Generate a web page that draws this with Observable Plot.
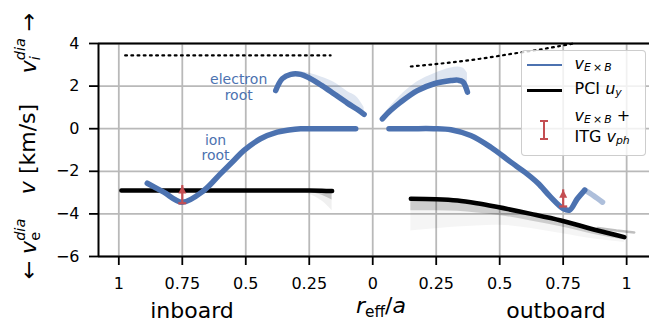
<!DOCTYPE html>
<html><head><meta charset="utf-8">
<script src="https://cdn.jsdelivr.net/npm/d3@7"></script>
<script src="https://cdn.jsdelivr.net/npm/@observablehq/plot@0.6"></script>
<style>
body{margin:0;background:#fff;}
#wrap{position:relative;width:649px;height:323px;font-family:"DejaVu Sans",sans-serif;color:#000;overflow:hidden;}
#wrap svg{position:absolute;left:0;top:0;}
.lbl{position:absolute;white-space:nowrap;line-height:1;}
.ss{display:inline-block;vertical-align:-0.3em;font-size:0.66em;line-height:1;text-align:left;}
.ss span{display:block;}
#leg{position:absolute;left:521px;top:50px;width:125px;height:106px;box-sizing:border-box;border:1.5px solid rgba(200,200,200,0.9);border-radius:4px;background:rgba(255,255,255,0.8);}
#leg .t{position:absolute;font-size:16px;line-height:1;white-space:nowrap;}
#leg sub{font-size:0.68em;vertical-align:-0.22em;line-height:0;}
</style></head><body>
<div id="wrap"></div>
<script>
// ---------- data (r_eff/a, velocity in km/s) ----------
const xTicks = [-1, -0.75, -0.5, -0.25, 0, 0.25, 0.5, 0.75, 1];
const yTicks = [-6, -4, -2, 0, 2, 4];
const xDomain = [-1.08, 1.09];
const yDomain = [-6, 4];

// ion diamagnetic velocity (dotted)
const diaIn_r = [0.975, 0.75, 0.5, 0.25, 0.166];
const diaIn_v = [3.44, 3.44, 3.44, 3.44, 3.44];
const diaOut_r = [0.15, 0.3, 0.45, 0.55, 0.65, 0.79];
const diaOut_v = [2.92, 3.1, 3.33, 3.52, 3.7, 4.0];

// PCI u_y (black, with ensemble fan)
const pciIn_r = [0.99, 0.75, 0.5, 0.3, 0.25, 0.2, 0.16];
const pciIn_v = [-2.9, -2.9, -2.9, -2.9, -2.9, -2.91, -2.93];
const pciIn_mid = [-2.9, -2.9, -2.9, -2.91, -2.98, -3.12, -3.35];
const pciIn_lo = [-2.9, -2.9, -2.9, -2.93, -3.08, -3.4, -3.85];
const pciOut_r = [0.15, 0.25, 0.334, 0.41, 0.492, 0.623, 0.741, 0.886, 0.991];
const pciOut_v = [-3.29, -3.31, -3.37, -3.5, -3.68, -4.0, -4.31, -4.78, -5.09];
const pciOut_mid = [-3.85, -3.85, -3.88, -3.96, -4.06, -4.33, -4.6, -5.0, -5.22];
const pciOut_lo = [-4.8, -4.7, -4.62, -4.57, -4.53, -4.68, -4.92, -5.2, -5.34];
const pciOutTail_r = [0.886, 0.96, 1.03];
const pciOutTail_v = [-4.66, -4.78, -4.87];

// v_ExB ion root (blue)
const ionIn_r = [0.888, 0.823, 0.75, 0.665, 0.6, 0.547, 0.507, 0.442, 0.376, 0.33, 0.284, 0.2, 0.067];
const ionIn_v = [-2.56, -2.98, -3.45, -2.9, -2.12, -1.49, -1.02, -0.47, -0.16, -0.06, -0.005, 0, 0];
const ionOut_r = [0.064, 0.15, 0.24, 0.308, 0.386, 0.465, 0.544, 0.6, 0.65, 0.7, 0.75, 0.775, 0.805, 0.835];
const ionOut_v = [0, 0, 0, -0.05, -0.32, -0.87, -1.57, -2.05, -2.55, -3.2, -3.75, -3.82, -3.3, -2.88];
const ionOutTail_r = [0.835, 0.87, 0.905];
const ionOutTail_v = [-2.88, -3.15, -3.45];

// v_ExB electron root (blue, with ensemble fan above)
const elecIn_r = [0.382, 0.356, 0.323, 0.284, 0.25, 0.2, 0.153, 0.1, 0.06, 0.034];
const elecIn_v = [1.79, 2.35, 2.55, 2.55, 2.38, 2.02, 1.64, 1.2, 0.9, 0.67];
const elecIn_hi = [1.79, 2.38, 2.62, 2.66, 2.6, 2.42, 2.18, 1.75, 1.45, 1.0];
const elecOut_r = [0.038, 0.07, 0.11, 0.176, 0.242, 0.308, 0.335, 0.355, 0.373];
const elecOut_v = [0.46, 0.85, 1.25, 1.79, 2.11, 2.26, 2.28, 2.2, 1.72];
const elecOut_hi = [0.55, 1.05, 1.56, 2.2, 2.58, 2.85, 2.9, 2.85, 2.6];

// v_ExB + ITG v_ph error bars
const errSide = ["in", "out"];
const err_r = [0.75, 0.75];
const err_lo = [-3.5, -3.65];
const err_hi = [-2.67, -2.87];

// annotations
const notes = [
  {text: "electron\nroot", r: -0.528, v: 1.35},
  {text: "ion\nroot", r: -0.619, v: -1.49}
];

// ---------- build tables ----------
const blue = "#4c72b0", red = "#c44e52", grid = "#b9b9b9";
const X = (side, r) => side === "in" ? -r : r;
const rows = (side, rs, cols) => rs.map((r, i) => {
  const o = {x: X(side, r)};
  for (const k in cols) o[k] = cols[k][i];
  return o;
});
const diaIn = rows("in", diaIn_r, {v: diaIn_v});
const diaOut = rows("out", diaOut_r, {v: diaOut_v});
const pciIn = rows("in", pciIn_r, {v: pciIn_v, mid: pciIn_mid, lo: pciIn_lo});
const pciOut = rows("out", pciOut_r, {v: pciOut_v, mid: pciOut_mid, lo: pciOut_lo});
const pciOutTail = rows("out", pciOutTail_r, {v: pciOutTail_v});
const ionIn = rows("in", ionIn_r, {v: ionIn_v});
const ionOut = rows("out", ionOut_r, {v: ionOut_v});
const ionOutTail = rows("out", ionOutTail_r, {v: ionOutTail_v});
const elecIn = rows("in", elecIn_r, {v: elecIn_v, hi: elecIn_hi});
const elecOut = rows("out", elecOut_r, {v: elecOut_v, hi: elecOut_hi});
const errs = err_r.map((r, i) => ({x: X(errSide[i], r), lo: err_lo[i], hi: err_hi[i]}));

const hline = {draw(ctx, size) { const w = Math.sqrt(size / Math.PI); ctx.moveTo(-w, 0); ctx.lineTo(w, 0); }};
const caret = {draw(ctx, size) { const w = Math.sqrt(size / Math.PI); ctx.moveTo(0, 0); ctx.lineTo(-w, 2 * w); ctx.lineTo(w, 2 * w); ctx.closePath(); }};

const chart = Plot.plot({
  width: 649, height: 323,
  marginLeft: 98, marginRight: 0, marginTop: 43, marginBottom: 67,
  x: {domain: xDomain},
  y: {domain: yDomain},
  style: {fontFamily: "DejaVu Sans", fontSize: "16px", color: "#000", background: "transparent", overflow: "visible"},
  marks: [
    Plot.ruleX(xTicks, {stroke: grid, strokeWidth: 1.8}),
    Plot.ruleY(yTicks, {stroke: grid, strokeWidth: 1.8}),
    // ensemble fans
    Plot.areaY(pciOut, {x: "x", y1: "v", y2: "lo", fill: "#000", fillOpacity: 0.04, curve: "monotone-x"}),
    Plot.areaY(pciOut, {x: "x", y1: "v", y2: "mid", fill: "#000", fillOpacity: 0.16, curve: "monotone-x"}),
    Plot.areaY(pciIn, {x: "x", y1: "v", y2: "lo", fill: "#000", fillOpacity: 0.06, curve: "monotone-x"}),
    Plot.areaY(pciIn, {x: "x", y1: "v", y2: "mid", fill: "#000", fillOpacity: 0.18, curve: "monotone-x"}),
    Plot.line(pciOutTail, {x: "x", y: "v", stroke: "#000", strokeOpacity: 0.25, strokeWidth: 2.5}),
    Plot.areaY(elecIn, {x: "x", y1: "v", y2: "hi", fill: blue, fillOpacity: 0.18, curve: "monotone-x"}),
    Plot.areaY(elecOut, {x: "x", y1: "v", y2: "hi", fill: blue, fillOpacity: 0.18, curve: "monotone-x"}),
    // dotted diamagnetic velocity
    Plot.line(diaIn, {x: "x", y: "v", stroke: "#000", strokeWidth: 2.2, strokeDasharray: "1.8,4.4"}),
    Plot.line(diaOut, {x: "x", y: "v", stroke: "#000", strokeWidth: 2.2, strokeDasharray: "1.8,4.4", curve: "monotone-x"}),
    // PCI
    Plot.line(pciIn, {x: "x", y: "v", stroke: "#000", strokeWidth: 4.5, curve: "monotone-x"}),
    Plot.line(pciOut, {x: "x", y: "v", stroke: "#000", strokeWidth: 4.5, curve: "monotone-x"}),
    // v_ExB
    Plot.line(ionIn, {x: "x", y: "v", stroke: blue, strokeWidth: 5.5, curve: "catmull-rom", strokeLinejoin: "round"}),
    Plot.line(ionOut, {x: "x", y: "v", stroke: blue, strokeWidth: 5.5, curve: "catmull-rom", strokeLinejoin: "round"}),
    Plot.line(ionOutTail, {x: "x", y: "v", stroke: blue, strokeOpacity: 0.45, strokeWidth: 5.5, curve: "catmull-rom"}),
    Plot.line(elecIn, {x: "x", y: "v", stroke: blue, strokeWidth: 5.5, curve: "catmull-rom", strokeLinejoin: "round"}),
    Plot.line(elecOut, {x: "x", y: "v", stroke: blue, strokeWidth: 5.5, curve: "catmull-rom", strokeLinejoin: "round"}),
    // error bars
    Plot.ruleX(errs, {x: "x", y1: "lo", y2: "hi", stroke: red, strokeWidth: 2.2}),
    Plot.dot(errs, {x: "x", y: "lo", symbol: hline, r: 4, stroke: red, strokeWidth: 2.2}),
    Plot.dot(errs, {x: "x", y: "hi", symbol: caret, r: 4, fill: red, stroke: "none"}),
    // annotations
    Plot.text(notes, {x: "r", y: "v", text: "text", fill: blue, fontSize: 14, lineAnchor: "bottom", lineHeight: 1.11, textAnchor: "middle"}),
    // spines
    Plot.ruleY([yDomain[1], yDomain[0]], {stroke: "#000", strokeWidth: 2}),
    Plot.ruleX([xDomain[0]], {stroke: "#000", strokeWidth: 2}),
    Plot.axisX({ticks: xTicks, tickFormat: d => d3.format("~g")(Math.abs(d)), tickSize: 9, tickPadding: 12, strokeWidth: 1.8, fontSize: 16, label: null}),
    Plot.axisY({ticks: yTicks, tickFormat: d => d < 0 ? "\u2212" + (-d) : String(d), tickSize: 9, tickPadding: 10, strokeWidth: 1.8, fontSize: 16, label: null})
  ]
});

const wrap = document.getElementById("wrap");
wrap.appendChild(chart);

const html = `
<div class="lbl" style="font-size:22px;left:192px;top:${319-18.6}px;transform:translateX(-50%)">inboard</div>
<div class="lbl" style="font-size:22px;left:556px;top:${319-18.6}px;transform:translateX(-50%)">outboard</div>
<div class="lbl" style="font-size:22px;left:381px;top:${314-18.6}px;transform:translateX(-50%)"><i>r</i><sub style="font-size:0.7em;vertical-align:-0.25em;line-height:0">eff</sub>/<i>a</i></div>
<div class="lbl" style="font-size:22px;left:27.5px;top:149px;transform:translate(-50%,-50%) rotate(-90deg)"><i>v</i> [km/s]</div>
<div class="lbl" style="font-size:22px;left:27.5px;top:43px;transform:translate(-50%,-50%) rotate(-90deg)"><i>v</i><span class="ss"><span><i>dia</i></span><span><i>i</i></span></span> →</div>
<div class="lbl" style="font-size:22px;left:27.5px;top:249px;transform:translate(-50%,-50%) rotate(-90deg)">← <i>v</i><span class="ss"><span><i>dia</i></span><span>e</span></span></div>
<div id="leg">
  <div style="position:absolute;left:4.5px;top:12.5px;width:35px;height:2px;background:${blue}"></div>
  <div class="t" style="left:52.5px;top:5px"><i>v</i><sub><i>E</i>&#8201;×&#8201;<i>B</i></sub></div>
  <div style="position:absolute;left:4.5px;top:38px;width:35px;height:3px;background:#000"></div>
  <div class="t" style="left:52.5px;top:30px">PCI <i>u</i><sub><i>y</i></sub></div>
  <div style="position:absolute;left:20.5px;top:69.5px;width:2.2px;height:19px;background:${red}"></div>
  <div style="position:absolute;left:17.5px;top:68.5px;width:8px;height:2.2px;background:${red}"></div>
  <div style="position:absolute;left:17.5px;top:87.3px;width:8px;height:2.2px;background:${red}"></div>
  <div class="t" style="left:52.5px;top:57px"><i>v</i><sub><i>E</i>&#8201;×&#8201;<i>B</i></sub>&nbsp;+</div>
  <div class="t" style="left:52.5px;top:78px">ITG <i>v</i><sub><i>ph</i></sub></div>
</div>`;
wrap.insertAdjacentHTML("beforeend", html);
</script>
</body></html>
